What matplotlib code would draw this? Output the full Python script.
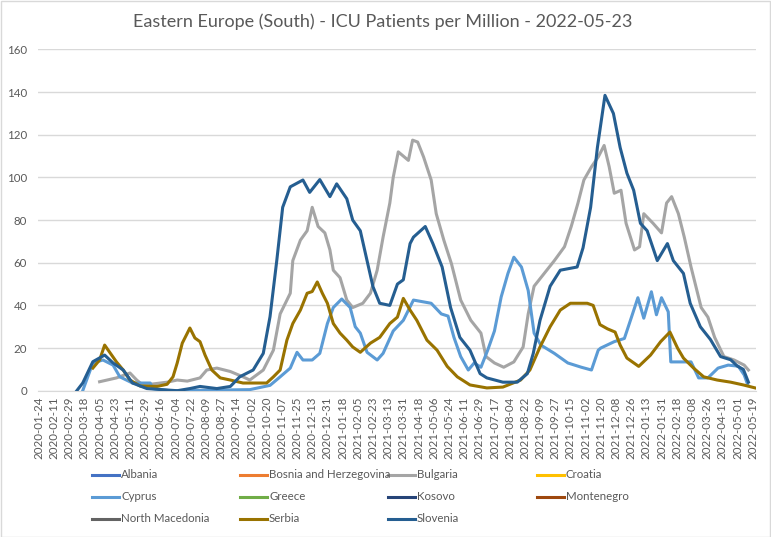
import matplotlib
matplotlib.use("Agg")
import matplotlib.pyplot as plt
import matplotlib.dates as mdates
from matplotlib.lines import Line2D
from matplotlib.patches import Rectangle
import pandas as pd

plt.rcParams['font.family'] = ['Lato', 'DejaVu Sans']

TITLE = "Eastern Europe (South) - ICU Patients per Million - 2022-05-23"

countries = ["Albania", "Bosnia and Herzegovina", "Bulgaria", "Croatia",
             "Cyprus", "Greece", "Kosovo", "Montenegro",
             "North Macedonia", "Serbia", "Slovenia"]
colors = ["#4472C4", "#ED7D31", "#A5A5A5", "#FFC000",
          "#5B9BD5", "#70AD47", "#264478", "#9E480E",
          "#636363", "#997300", "#255E91"]

# values (ICU patients per million)
bulgaria_dates = ["2020-04-05", "2020-04-25", "2020-05-11", "2020-05-19", "2020-05-26", "2020-06-04",
                  "2020-06-24", "2020-07-06", "2020-07-18", "2020-08-02", "2020-08-10", "2020-08-22",
                  "2020-09-07", "2020-09-22", "2020-09-30", "2020-10-16", "2020-10-28", "2020-11-05",
                  "2020-11-17", "2020-11-20", "2020-11-29", "2020-12-07", "2020-12-13", "2020-12-20",
                  "2020-12-28", "2021-01-03", "2021-01-07", "2021-01-15", "2021-01-23", "2021-01-30",
                  "2021-02-11", "2021-02-20", "2021-02-28", "2021-03-07", "2021-03-15", "2021-03-19",
                  "2021-03-25", "2021-04-06", "2021-04-11", "2021-04-17", "2021-04-24", "2021-05-03",
                  "2021-05-09", "2021-05-18", "2021-05-27", "2021-06-07", "2021-06-19", "2021-07-01",
                  "2021-07-07", "2021-07-17", "2021-07-28", "2021-08-09", "2021-08-20", "2021-08-26",
                  "2021-09-02", "2021-09-14", "2021-09-26", "2021-10-08", "2021-10-16", "2021-10-24",
                  "2021-10-31", "2021-11-09", "2021-11-17", "2021-11-24", "2021-11-30", "2021-12-06",
                  "2021-12-14", "2021-12-20", "2021-12-30", "2022-01-05", "2022-01-10", "2022-01-21",
                  "2022-01-31", "2022-02-06", "2022-02-12", "2022-02-20", "2022-02-27", "2022-03-07",
                  "2022-03-19", "2022-03-27", "2022-04-04", "2022-04-15", "2022-04-27", "2022-05-09",
                  "2022-05-14"]
bulgaria_vals = [4.2, 6, 8.3, 5, 2.7, 3,
                 4, 5, 4.5, 6, 9.7, 10.6,
                 9, 6.5, 5, 9.7, 19, 36,
                 45.7, 61, 70.6, 75, 86, 77,
                 74, 66, 56.5, 53, 42.5, 39,
                 41, 45.7, 56.5, 72, 88, 100,
                 112, 108, 117.5, 116.6, 109.6, 98.8,
                 83, 70.6, 59.6, 42.5, 33, 27,
                 16, 13, 11, 13.5, 20.5, 36,
                 49, 55, 61, 67.5, 77, 88,
                 98.8, 105, 109.6, 115, 105, 92.6,
                 94, 78.5, 66, 67.5, 83, 78.5,
                 74, 88, 91, 83, 72, 58,
                 39, 34.5, 25, 16, 14.4, 12,
                 9.7]

cyprus_dates = ["2020-03-16", "2020-03-28", "2020-04-09", "2020-04-21", "2020-04-29", "2020-05-14",
                "2020-06-04", "2020-06-07", "2020-06-27", "2020-09-30", "2020-10-24", "2020-11-05",
                "2020-11-17", "2020-11-25", "2020-12-02", "2020-12-13", "2020-12-22", "2020-12-31",
                "2021-01-07", "2021-01-17", "2021-01-27", "2021-02-02", "2021-02-08", "2021-02-16",
                "2021-02-28", "2021-03-07", "2021-03-19", "2021-03-31", "2021-04-12", "2021-05-03",
                "2021-05-15", "2021-05-23", "2021-05-30", "2021-06-07", "2021-06-16", "2021-06-23",
                "2021-07-01", "2021-07-09", "2021-07-17", "2021-07-25", "2021-08-02", "2021-08-09",
                "2021-08-18", "2021-08-26", "2021-09-02", "2021-09-10", "2021-09-26", "2021-10-12",
                "2021-10-28", "2021-11-09", "2021-11-17", "2021-11-20", "2021-12-06", "2021-12-18",
                "2021-12-26", "2022-01-03", "2022-01-10", "2022-01-19", "2022-01-25", "2022-01-31",
                "2022-02-08", "2022-02-11", "2022-02-23", "2022-03-07", "2022-03-16", "2022-03-27",
                "2022-04-08", "2022-04-20", "2022-05-02", "2022-05-09", "2022-05-13"]
cyprus_vals = [0, 13, 14.4, 12, 6.5, 3.6,
               3.6, 1, 0, 0.5, 2.5, 6.5,
               10.6, 18, 14.4, 14.4, 17.5, 31.5,
               39, 43, 39, 30, 27, 18,
               14.4, 17.5, 28, 33, 42.5, 41,
               36, 35, 25, 16, 9.7, 13,
               11, 19, 28, 44, 55, 62.6,
               58, 47, 27, 21.4, 17.5, 13,
               11, 9.7, 19, 20, 23, 24.5,
               34, 43.6, 34, 46.4, 35.6, 43.6,
               37, 13.5, 13.5, 13.5, 6, 6,
               10.6, 12, 11.5, 7.4, 3]

serbia_dates = ["2020-03-28", "2020-04-05", "2020-04-11", "2020-04-17", "2020-04-25", "2020-05-03",
                "2020-05-11", "2020-05-23", "2020-06-12", "2020-06-24", "2020-07-01", "2020-07-06",
                "2020-07-12", "2020-07-18", "2020-07-21", "2020-07-27", "2020-08-02", "2020-08-08",
                "2020-08-16", "2020-08-26", "2020-09-07", "2020-09-22", "2020-10-20", "2020-10-28",
                "2020-11-05", "2020-11-13", "2020-11-20", "2020-11-29", "2020-12-07", "2020-12-13",
                "2020-12-19", "2020-12-25", "2020-12-31", "2021-01-07", "2021-01-15", "2021-01-23",
                "2021-01-30", "2021-02-08", "2021-02-20", "2021-03-03", "2021-03-15", "2021-03-24",
                "2021-03-31", "2021-04-08", "2021-04-16", "2021-04-28", "2021-05-10", "2021-05-22",
                "2021-06-03", "2021-06-18", "2021-07-08", "2021-07-27", "2021-08-17", "2021-08-28",
                "2021-09-09", "2021-09-21", "2021-10-03", "2021-10-15", "2021-11-04", "2021-11-11",
                "2021-11-19", "2021-11-28", "2021-12-07", "2021-12-13", "2021-12-21", "2022-01-04",
                "2022-01-18", "2022-01-30", "2022-02-10", "2022-02-19", "2022-02-26", "2022-03-10",
                "2022-03-22", "2022-04-07", "2022-04-23", "2022-05-08", "2022-05-22"]
serbia_vals = [10.6, 14.4, 21.4, 18, 13.5, 9.7,
               5, 2.2, 2, 3, 6.5, 13,
               22.3, 27, 29.4, 24.7, 23, 16.7,
               9.7, 6, 5, 3.6, 3.6, 6.5,
               9.7, 23.7, 31.5, 37.8, 45.7, 46.5,
               51, 45.7, 41, 31.5, 27, 23.7,
               20.5, 18, 22.3, 25, 31.5, 34.5,
               43.3, 37.8, 33, 23.7, 19, 11.4,
               6.5, 2.7, 1.3, 1.7, 5, 9.7,
               20.5, 30, 37.8, 41, 41, 40,
               31, 29, 27.5, 21.4, 15.3, 11.4,
               16.7, 23, 27.5, 20, 15.3, 10.6,
               6.5, 5, 4, 2.7, 1.3]

slovenia_dates = ["2020-03-09", "2020-03-16", "2020-03-28", "2020-04-11", "2020-04-21", "2020-05-03",
                  "2020-05-14", "2020-05-31", "2020-07-06", "2020-07-21", "2020-08-02", "2020-08-22",
                  "2020-09-07", "2020-09-18", "2020-10-04", "2020-10-16", "2020-10-24", "2020-11-01",
                  "2020-11-08", "2020-11-17", "2020-12-02", "2020-12-10", "2020-12-22", "2021-01-03",
                  "2021-01-11", "2021-01-23", "2021-01-30", "2021-02-08", "2021-02-16", "2021-02-23",
                  "2021-03-03", "2021-03-15", "2021-03-24", "2021-03-31", "2021-04-08", "2021-04-12",
                  "2021-04-26", "2021-05-05", "2021-05-16", "2021-05-26", "2021-06-06", "2021-06-18",
                  "2021-06-30", "2021-07-08", "2021-07-27", "2021-08-13", "2021-08-25", "2021-09-01",
                  "2021-09-09", "2021-09-21", "2021-10-03", "2021-10-23", "2021-10-30", "2021-11-08",
                  "2021-11-16", "2021-11-25", "2021-12-05", "2021-12-13", "2021-12-21", "2021-12-29",
                  "2022-01-06", "2022-01-14", "2022-01-26", "2022-02-07", "2022-02-14", "2022-02-26",
                  "2022-03-06", "2022-03-18", "2022-03-30", "2022-04-11", "2022-04-23", "2022-05-01",
                  "2022-05-08", "2022-05-14"]
slovenia_vals = [0, 3.6, 13.6, 16.7, 13, 9.7,
                 3.6, 1, 0, 1, 2, 1,
                 2, 6.5, 9.7, 17.5, 34.7, 61,
                 86, 95.6, 98.8, 93, 99, 91,
                 97, 90, 80, 75, 61, 48.8,
                 41, 40, 50, 52, 69, 72,
                 77, 69, 58, 39, 25, 19,
                 8, 6, 4, 4, 8, 17.5,
                 33, 49, 56.5, 58, 67, 86,
                 114, 138.5, 130, 114, 102, 94,
                 78.5, 75, 61, 69, 61, 55,
                 41, 30, 24, 16, 14.5, 11.5,
                 10, 4]

series = {
    "Bulgaria": (bulgaria_dates, bulgaria_vals),
    "Cyprus": (cyprus_dates, cyprus_vals),
    "Serbia": (serbia_dates, serbia_vals),
    "Slovenia": (slovenia_dates, slovenia_vals),
}

W, H = 771, 537
fig = plt.figure(figsize=(W / 100, H / 100), dpi=100)
ax = fig.add_axes([38 / W, 1 - 390.7 / H, (756 - 38) / W, (390.7 - 49.5) / H])

grid_col = "#D9D9D9"
text_col = "#595959"

for name, col in zip(countries, colors):
    if name in series:
        d, v = series[name]
        ax.plot(pd.to_datetime(d), v, color=col, lw=2.2, solid_joinstyle='round', zorder=3)

ax.set_ylim(0, 160)
ax.set_yticks(range(0, 161, 20))
ax.set_xlim(pd.Timestamp("2020-01-23"), pd.Timestamp("2022-05-23"))
ax.set_xticks(pd.date_range("2020-01-24", "2022-05-23", freq="18D"))
ax.xaxis.set_major_formatter(mdates.DateFormatter("%Y-%m-%d"))
ax.grid(axis='y', color=grid_col, lw=1)
ax.set_axisbelow(True)
for s in ["top", "right", "left"]:
    ax.spines[s].set_visible(False)
ax.spines["bottom"].set_color(grid_col)
ax.tick_params(axis='x', length=0, pad=4, labelsize=8.3, labelcolor=text_col, rotation=90)
ax.tick_params(axis='y', length=0, pad=8, labelsize=8.3, labelcolor=text_col)

fig.text(383 / W, 1 - 22 / H, TITLE, ha='center', va='center', fontsize=13, color=text_col)

# legend laid out like Excel: 4 columns, row by row
col_x = [92, 240, 388, 537]
row_y = [475, 497, 519]
for i, (name, col) in enumerate(zip(countries, colors)):
    x0 = col_x[i % 4]
    y0 = 1 - row_y[i // 4] / H
    fig.add_artist(Line2D([x0 / W, (x0 + 27) / W], [y0, y0], color=col, lw=2.2,
                          transform=fig.transFigure))
    fig.text((x0 + 29) / W, y0, name, ha='left', va='center', fontsize=8.3, color=text_col)

fig.add_artist(Rectangle((0.5 / W, 0.5 / H), (W - 1.5) / W, (H - 1.5) / H, fill=False,
                         edgecolor=grid_col, lw=1, transform=fig.transFigure))

fig.savefig("out.png", dpi=100)
